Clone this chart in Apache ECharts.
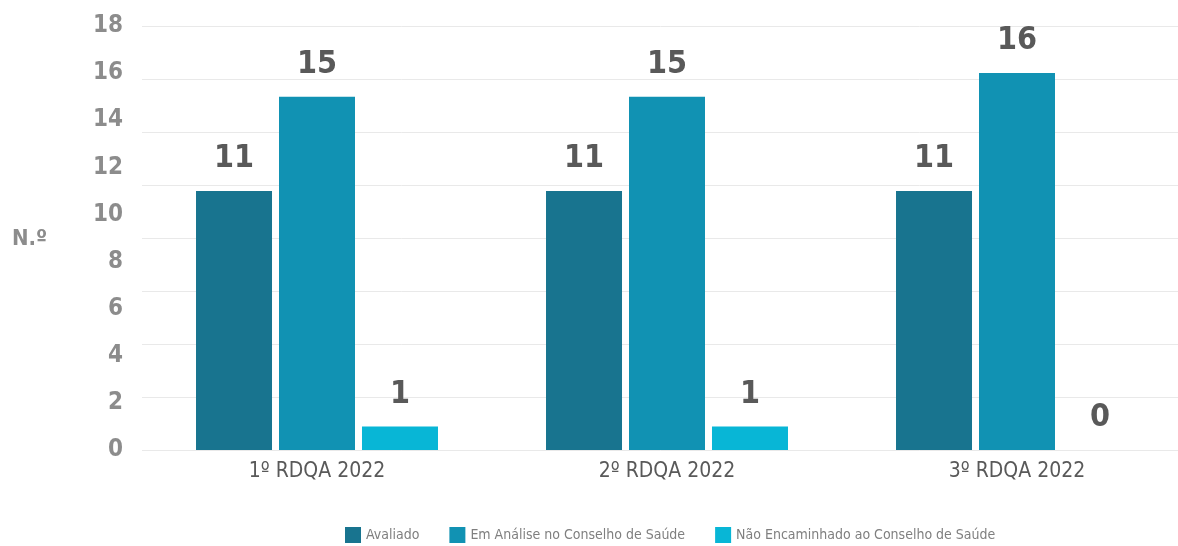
<!DOCTYPE html>
<html>
<head>
<meta charset="utf-8">
<script src="https://cdn.jsdelivr.net/npm/echarts@6/dist/echarts.min.js"></script>
<style>html,body{margin:0;padding:0;background:#fff;}#c{width:1178px;height:546px;}</style>
</head>
<body>
<div id="c"></div>
<script>
var categories = ['1º RDQA 2022', '2º RDQA 2022', '3º RDQA 2022'];
var avaliado = [11, 11, 11];
var emAnalise = [15, 15, 16];
var naoEncaminhado = [1, 1, 0];
var seriesNames = ['Avaliado', 'Em Análise no Conselho de Saúde', 'Não Encaminhado ao Conselho de Saúde'];
var yMax = 18;
var yInterval = 2;

var FONT = '"DejaVu Sans Condensed", "Liberation Sans Narrow", sans-serif';
var chart = echarts.init(document.getElementById('c'));
function bar(name, data, color) {
  return {
    name: name, type: 'bar', data: data, barWidth: 76, barGap: '9.2%',
    itemStyle: { color: color },
    label: { show: true, position: 'top', distance: 16, color: '#595959', fontSize: 32, fontWeight: 'bold', fontFamily: FONT }
  };
}
chart.setOption({
  animation: false,
  textStyle: { fontFamily: FONT },
  grid: { left: 142, width: 1050, top: 26, bottom: 96, containLabel: false, outerBoundsMode: 'none' },
  graphic: [{ type: 'text', left: 12, top: 228, style: { text: 'N.º', fontSize: 22, fontWeight: 'bold', fill: '#8c8c8c', fontFamily: FONT } }],
  legend: {
    top: 522, left: 340, itemWidth: 16, itemHeight: 16, itemGap: 30,
    icon: 'rect', textStyle: { color: '#7f7f7f', fontSize: 14, fontFamily: FONT },
    data: seriesNames
  },
  xAxis: {
    type: 'category', data: categories,
    axisLine: { show: false }, axisTick: { show: false },
    axisLabel: { color: '#595959', fontSize: 21, margin: 11, fontFamily: FONT }
  },
  yAxis: [{
    type: 'value', min: 0, max: yMax, interval: yInterval,
    axisLine: { show: false }, axisTick: { show: false },
    splitLine: { show: false },
    axisLabel: { color: '#8c8c8c', fontSize: 24, fontWeight: 'bold', margin: 19, fontFamily: FONT }
  }, {
    type: 'value', min: 0, max: 8, interval: 1, position: 'left',
    axisLine: { show: false }, axisTick: { show: false }, axisLabel: { show: false },
    splitLine: { show: true, lineStyle: { color: '#e9e9e9', width: 1 } }
  }],
  series: [
    bar(seriesNames[0], avaliado, '#18748f'),
    bar(seriesNames[1], emAnalise, '#1192b3'),
    bar(seriesNames[2], naoEncaminhado, '#08b6d6')
  ]
});
</script>
</body>
</html>
